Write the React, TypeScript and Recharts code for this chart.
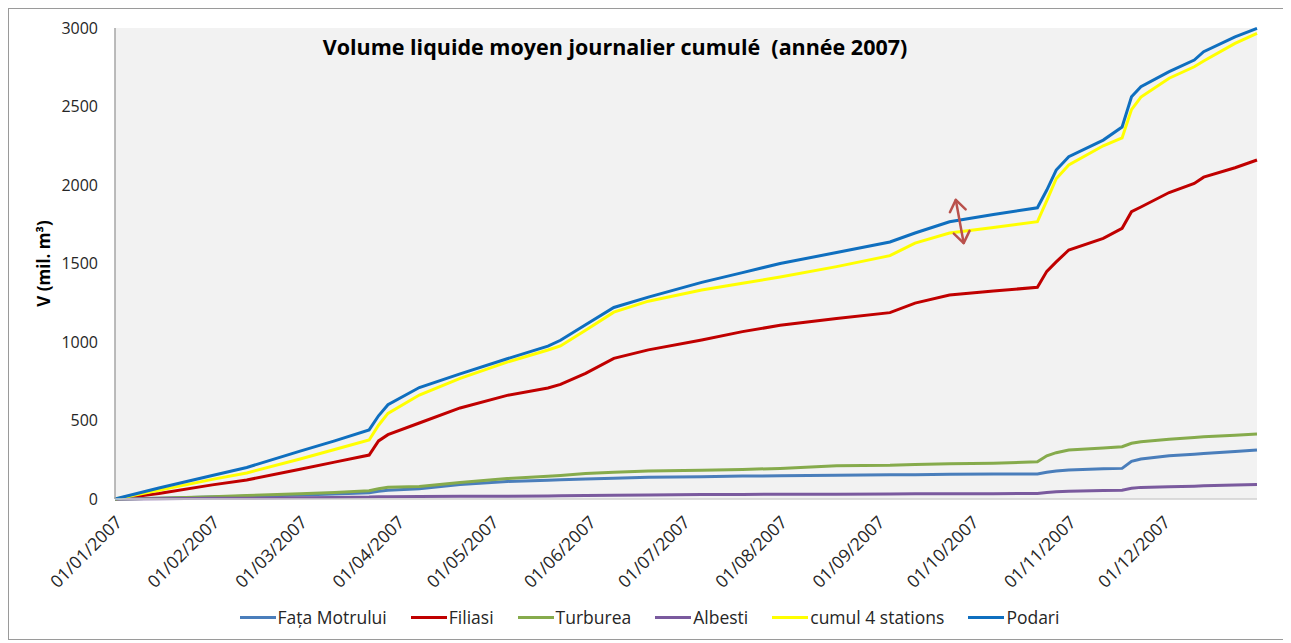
import React from 'react';
import { LineChart, Line, XAxis, YAxis, CartesianGrid, ReferenceLine } from 'recharts';

// day of year (0 = 01/01/2007) at which each series was read
const days = [
  0, 14, 31, 42, 59, 70, 81, 84, 87, 97, 110, 125, 138, 142, 150, 159, 170, 187, 200,
  212, 230, 247, 255, 266, 280, 294, 297, 300, 304, 315, 321, 324, 327, 336, 344, 347, 357, 364,
];

const monthTicks = [0, 31, 59, 90, 120, 151, 181, 212, 243, 273, 304, 334];
const monthLabels = [
  '01/01/2007', '01/02/2007', '01/03/2007', '01/04/2007', '01/05/2007', '01/06/2007',
  '01/07/2007', '01/08/2007', '01/09/2007', '01/10/2007', '01/11/2007', '01/12/2007',
];
const yTicks = [0, 500, 1000, 1500, 2000, 2500, 3000];

const fataMotrului = [
  0, 5, 12, 17, 25, 32, 40, 50, 55, 65, 92, 112, 120, 123, 128, 132, 138, 142, 146,
  148, 152, 154, 155, 157, 159, 160, 170, 178, 185, 192, 195, 240, 255, 275, 285, 290, 302, 312,
];
const filiasi = [
  0, 35, 90, 121, 190, 235, 280, 370, 410, 484, 580, 660, 707, 730, 800, 896, 950, 1013, 1066,
  1106, 1150, 1187, 1248, 1299, 1325, 1348, 1450, 1510, 1586, 1660, 1724, 1830, 1860, 1952, 2010, 2050, 2110, 2159,
];
const turburea = [
  0, 5, 15, 22, 33, 42, 52, 65, 75, 80, 105, 130, 145, 150, 163, 170, 178, 183, 188,
  195, 212, 215, 220, 224, 228, 237, 275, 295, 312, 325, 333, 355, 365, 380, 392, 396, 406, 414,
];
const albesti = [
  0, 2, 4, 5, 8, 10, 12, 14, 15, 16, 17, 18, 19, 20, 22, 24, 26, 28, 29,
  30, 31, 32, 33, 34, 34, 35, 42, 46, 50, 54, 56, 68, 74, 78, 82, 84, 89, 93,
];
const cumul4Stations = [
  0, 55, 125, 166, 255, 315, 376, 470, 545, 662, 768, 872, 949, 975, 1075, 1190, 1260, 1331, 1374,
  1414, 1480, 1550, 1630, 1694, 1730, 1766, 1900, 2040, 2127, 2250, 2300, 2480, 2560, 2680, 2753, 2790, 2902, 2966,
];
const podari = [
  0, 70, 150, 201, 305, 370, 440, 530, 600, 710, 797, 893, 974, 1011, 1110, 1220, 1286, 1380, 1442,
  1500, 1570, 1637, 1694, 1766, 1812, 1855, 1968, 2095, 2180, 2286, 2369, 2562, 2626, 2722, 2796, 2849, 2944, 2998,
];

// double arrow annotation (day, volume)
const arrowTop = { x: 268, y: 1905 };
const arrowBottom = { x: 270.5, y: 1630 };

const SERIES = [
  { key: 'fata', name: 'Fața Motrului', color: '#4a7ebb', values: fataMotrului },
  { key: 'filiasi', name: 'Filiasi', color: '#c00000', values: filiasi },
  { key: 'turburea', name: 'Turburea', color: '#86ab4c', values: turburea },
  { key: 'albesti', name: 'Albesti', color: '#7a5a9e', values: albesti },
  { key: 'cumul', name: 'cumul 4 stations', color: '#ffff00', values: cumul4Stations },
  { key: 'podari', name: 'Podari', color: '#0f6fbf', values: podari },
];

const data = days.map((d, i) => {
  const row: Record<string, number> = { day: d };
  SERIES.forEach((s) => { row[s.key] = s.values[i]; });
  return row;
});

const FONT = '"Open Sans", sans-serif';

const DateTick = (props: any) => {
  const { x, y, payload } = props;
  const idx = monthTicks.indexOf(payload.value);
  return (
    <g transform={`translate(${x + 4},${y + 12})`}>
      <text x={0} y={0} dy="0.35em" textAnchor="end" transform="rotate(-45)"
        fontSize={17.5} fill="#262626" fontFamily={FONT}>
        {monthLabels[idx]}
      </text>
    </g>
  );
};

const ArrowShape = (props: any) => {
  const { x1, y1, x2, y2 } = props;
  if ([x1, y1, x2, y2].some((v) => typeof v !== 'number')) return <g />;
  const dx = x2 - x1, dy = y2 - y1;
  const len = Math.sqrt(dx * dx + dy * dy) || 1;
  const ux = dx / len, uy = dy / len;
  const h = 11, w = 8;
  const head = (px: number, py: number, dir: number) => {
    const bx = px - dir * ux * h, by = py - dir * uy * h;
    return `M${bx - uy * w},${by + ux * w} L${px},${py} L${bx + uy * w},${by - ux * w}`;
  };
  return (
    <g stroke="#b9514c" strokeWidth={2.5} fill="none" strokeLinecap="round" strokeLinejoin="round">
      <line x1={x1} y1={y1} x2={x2} y2={y2} />
      <path d={head(x1, y1, -1)} />
      <path d={head(x2, y2, 1)} />
    </g>
  );
};

const YLabel = (props: any) => {
  const { viewBox } = props;
  const cx = viewBox.x + 34;
  const cy = viewBox.y + viewBox.height / 2;
  return (
    <text x={cx} y={cy} transform={`rotate(-90, ${cx}, ${cy})`} textAnchor="middle"
      dominantBaseline="central" fontSize={17} fontWeight={700} fill="#000" fontFamily={FONT}>
      V (mil. m³)
    </text>
  );
};

export default function App() {
  return (
    <div style={{ position: 'relative', width: 1281, height: 630, border: '1px solid #9a9a9a', background: '#fff', fontFamily: FONT }}>
      <LineChart width={1281} height={630} data={data} margin={{ top: 19, right: 33, bottom: 40, left: 0 }}>
        <CartesianGrid fill="#f2f2f2" stroke="none" horizontal={false} vertical={false} />
        <XAxis dataKey="day" type="number" domain={[0, 364]} ticks={monthTicks} interval={0}
          height={100} tick={<DateTick />} tickLine={false}
          axisLine={{ stroke: '#d0d0d0', strokeWidth: 1.5 }} />
        <YAxis type="number" domain={[0, 3000]} ticks={yTicks} width={106} interval={0}
          tickLine={false} tickSize={8} tickMargin={9}
          tick={{ fontSize: 16, fill: '#262626', fontFamily: FONT }}
          axisLine={{ stroke: '#a6a6a6', strokeWidth: 1.5 }}
          label={<YLabel />} />
        {SERIES.map((s) => (
          <Line key={s.key} type="linear" dataKey={s.key} name={s.name} stroke={s.color}
            strokeWidth={3} dot={false} isAnimationActive={false} />
        ))}
        <ReferenceLine segment={[arrowTop, arrowBottom]} shape={ArrowShape} ifOverflow="visible" />
      </LineChart>
      <div style={{ position: 'absolute', left: 606, top: 25, transform: 'translateX(-50%)', whiteSpace: 'pre',
        fontSize: 21.5, fontWeight: 700, color: '#000', lineHeight: '26px' }}>
        Volume liquide moyen journalier cumulé  (année 2007)
      </div>
      <div style={{ position: 'absolute', left: 0, width: 1281, top: 596, display: 'flex', justifyContent: 'center',
        gap: 24, fontSize: 17.5, color: '#262626', lineHeight: '24px' }}>
        {SERIES.map((s) => (
          <div key={s.key} style={{ display: 'flex', alignItems: 'center' }}>
            <span style={{ display: 'inline-block', width: 36, height: 3, background: s.color, marginRight: 2 }} />
            <span>{s.name}</span>
          </div>
        ))}
      </div>
    </div>
  );
}
